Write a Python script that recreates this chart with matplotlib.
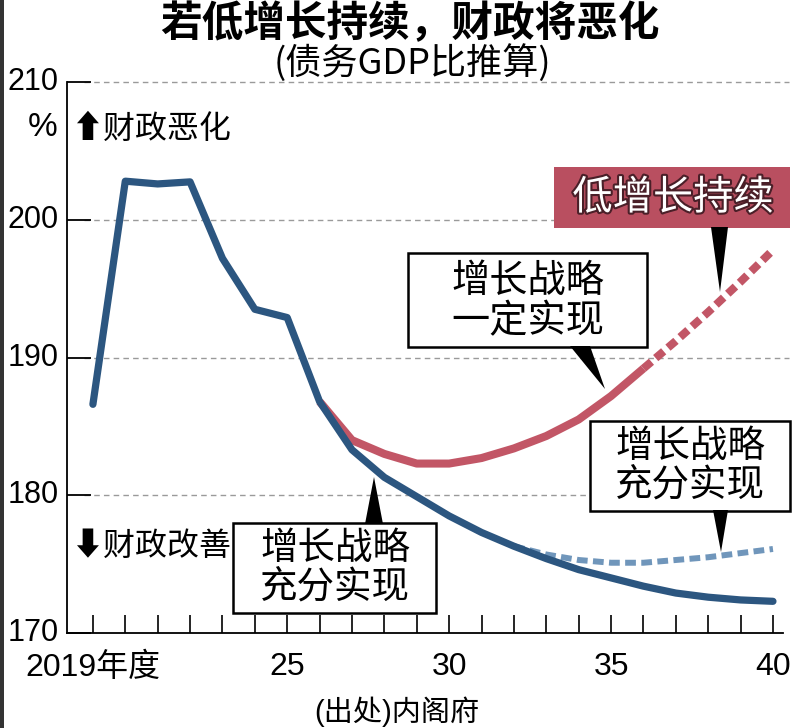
import matplotlib
matplotlib.use('Agg')
import matplotlib.pyplot as plt
from matplotlib.patches import Rectangle, Polygon
import matplotlib.patheffects as pe

plt.rcParams['font.family'] = ['Noto Sans CJK SC', 'DejaVu Sans']

# ---------------------------------------------------------------------------
# Data: debt-to-GDP ratio (%)
# ---------------------------------------------------------------------------
years = list(range(2019, 2041))
full_growth = [186.6, 202.8, 202.6, 202.75, 197.2, 193.5, 192.9, 186.8,
               183.3, 181.3, 179.9, 178.5, 177.3, 176.3, 175.4, 174.6,
               174.0, 173.4, 172.9, 172.6, 172.4, 172.3]

base_years = list(range(2026, 2037))
base_case = [186.8, 184.0, 183.0, 182.3, 182.3, 182.7, 183.4, 184.3,
             185.5, 187.2, 189.2]

low_years = list(range(2036, 2041))
low_growth = [189.2, 191.2, 193.3, 195.5, 197.8]

full2_years = list(range(2032, 2041))
full_growth2 = [176.3, 175.7, 175.3, 175.1, 175.1, 175.3, 175.5, 175.8, 176.1]

y_ticks = [170, 180, 190, 200, 210]
x_ticks = [2019, 2025, 2030, 2035, 2040]
x_labels = ['2019年度', '25', '30', '35', '40']

BLUE = '#2c5680'
BLUE_LIGHT = '#7096bb'
RED = '#c25666'
RED_BOX = '#b94f60'
NUM_FONT = ['Liberation Sans', 'Noto Sans CJK SC']

W, H = 800, 728


def px(x, y):
    """Image pixel (top-left origin) -> figure fraction."""
    return (x / W, 1 - y / H)


def box(fig, x0, y0, x1, y1, face='white', edge='black', lw=1.8):
    fig.add_artist(Rectangle(px(x0, y1), (x1 - x0) / W, (y1 - y0) / H,
                             transform=fig.transFigure, facecolor=face,
                             edgecolor=edge, linewidth=lw, zorder=5))


def pointer(fig, bx0, bx1, by, tx, ty):
    fig.add_artist(Polygon([px(bx0, by), px(bx1, by), px(tx, ty)],
                           closed=True, transform=fig.transFigure,
                           facecolor='black', edgecolor='none', zorder=6))


fig = plt.figure(figsize=(W / 100, H / 100), dpi=100)
ax = fig.add_axes([67 / W, (H - 633) / H, (783 - 67) / W, (633 - 82) / H])
ax.set_xlim(2018.2, 2040.31)
ax.set_ylim(170, 210)

# gridlines starting right of the inward ticks
ax.hlines(y_ticks[1:], 2018.2 + 17 / 32.4, 2040.5, colors='#9a9a9a',
          linestyles=(0, (4, 3)), linewidth=1.0, zorder=1, clip_on=False)

ax.plot(years, full_growth, color=BLUE, lw=5.2, solid_joinstyle='round',
        solid_capstyle='round', zorder=4)
ax.plot(base_years, base_case, color=RED, lw=5.8, solid_joinstyle='round',
        solid_capstyle='butt', zorder=3)
ax.plot(low_years, low_growth, color=RED, lw=5.8, dashes=(1.3, 0.7),
        dash_capstyle='butt', zorder=3)
ax.plot(full2_years, full_growth2, color=BLUE_LIGHT, lw=4.3, dashes=(1.8, 0.9),
        dash_capstyle='butt', zorder=3)

for side in ['top', 'right']:
    ax.spines[side].set_visible(False)
for side in ['left', 'bottom']:
    ax.spines[side].set_linewidth(1.3)

ax.set_yticks(y_ticks)
ax.set_yticklabels([str(v) for v in y_ticks], family=NUM_FONT, fontsize=22)
ax.tick_params(axis='y', direction='in', length=17, width=1.3, pad=6)
ax.set_xticks(years, minor=True)
ax.set_xticks(x_ticks)
ax.set_xticklabels(x_labels, family=NUM_FONT, fontsize=23)
ax.tick_params(axis='x', which='both', direction='in', length=13, width=1.2,
               pad=14)
for lbl in ax.get_yticklabels():
    lbl.set_verticalalignment('center')

# titles and notes
fig.text(*px(410, 24), '若低增长持续，财政将恶化', ha='center', va='center',
         fontsize=30, fontweight='bold')
fig.text(*px(412, 63), '(债务GDP比推算)', ha='center', va='center',
         fontsize=26)
fig.text(*px(397, 712), '(出处)内阁府', ha='center', va='center',
         fontsize=21, family=NUM_FONT)
fig.text(*px(43, 128), '%', ha='center', va='center', fontsize=24,
         family=NUM_FONT)
fig.text(*px(72, 129), '⬆财政恶化', ha='left', va='center', fontsize=23,
         family=['Noto Sans CJK SC', 'DejaVu Sans'])
fig.text(*px(72, 546), '⬇财政改善', ha='left', va='center', fontsize=23,
         family=['Noto Sans CJK SC', 'DejaVu Sans'])

# callout boxes
box(fig, 554, 167, 790, 228, face=RED_BOX, edge='none', lw=0)
pointer(fig, 711, 728, 227, 720, 292)
fig.text(*px(673, 198), '低增长持续', ha='center', va='center', fontsize=29,
         color='white', fontweight='medium', zorder=7,
         path_effects=[pe.withStroke(linewidth=3, foreground='#4a1f28')])

box(fig, 408, 253, 647, 347)
pointer(fig, 570, 590, 346, 605, 389)
fig.text(*px(528, 302), '增长战略\n一定实现', ha='center', va='center',
         fontsize=27.5, fontweight='medium', linespacing=1.05, zorder=7)

box(fig, 590, 421, 790, 511)
pointer(fig, 713, 728, 510, 721, 552)
fig.text(*px(690, 466), '增长战略\n充分实现', ha='center', va='center',
         fontsize=27, fontweight='medium', linespacing=1.0, zorder=7)

box(fig, 233, 523, 436, 613)
pointer(fig, 365, 383, 524, 374, 477)
fig.text(*px(335, 568), '增长战略\n充分实现', ha='center', va='center',
         fontsize=27, fontweight='medium', linespacing=1.0, zorder=7)

# dark strip on the left edge of the original image
fig.add_artist(Rectangle((0, 0), 4 / W, 1, transform=fig.transFigure,
                         facecolor='#333333', edgecolor='none'))

fig.savefig('out.png', dpi=100)
